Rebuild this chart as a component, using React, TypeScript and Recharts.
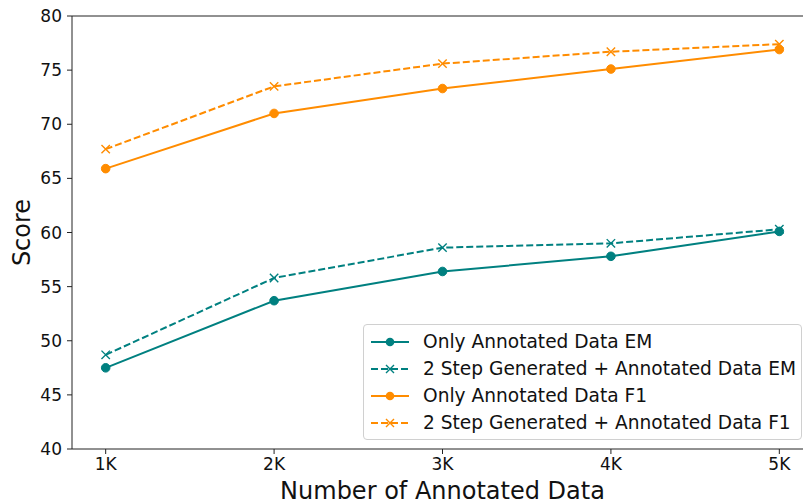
import React from 'react'
import {
  LineChart,
  Line,
  XAxis,
  YAxis,
  ReferenceLine,
} from 'recharts'

// data
const sizes = [1, 2, 3, 4, 5]
const onlyEM = [47.5, 53.7, 56.4, 57.8, 60.1]
const stepEM = [48.7, 55.8, 58.6, 59.0, 60.3]
const onlyF1 = [65.9, 71.0, 73.3, 75.1, 76.9]
const stepF1 = [67.7, 73.5, 75.6, 76.7, 77.4]
const yTicks = [40, 45, 50, 55, 60, 65, 70, 75, 80]

const TEAL = '#008080'
const ORANGE = '#ff8c00'
const FONT = '"DejaVu Sans", sans-serif'

const data = sizes.map((k, i) => ({
  k,
  onlyEM: onlyEM[i],
  stepEM: stepEM[i],
  onlyF1: onlyF1[i],
  stepF1: stepF1[i],
}))

const series = [
  { key: 'onlyEM', name: 'Only Annotated Data EM', color: TEAL, dashed: false },
  { key: 'stepEM', name: '2 Step Generated + Annotated Data EM', color: TEAL, dashed: true },
  { key: 'onlyF1', name: 'Only Annotated Data F1', color: ORANGE, dashed: false },
  { key: 'stepF1', name: '2 Step Generated + Annotated Data F1', color: ORANGE, dashed: true },
]

const circleDot = (color: string) => (p: any) => (
  <circle key={p.index} cx={p.cx} cy={p.cy} r={4.3} fill={color} stroke={color} />
)

const crossDot = (color: string) => (p: any) => {
  const s = 4.2
  return (
    <path
      key={p.index}
      d={`M${p.cx - s},${p.cy - s}L${p.cx + s},${p.cy + s}M${p.cx - s},${p.cy + s}L${p.cx + s},${p.cy - s}`}
      stroke={color}
      strokeWidth={1.4}
      fill="none"
    />
  )
}

// legend drawn outside the chart so it does not shrink the plot area
function LegendBox() {
  return (
    <div
      style={{
        position: 'absolute',
        left: 363,
        top: 324,
        width: 439,
        height: 116,
        border: '1px solid #d0d0d0',
        borderRadius: 4,
        background: 'rgba(255,255,255,0.85)',
        fontFamily: FONT,
        fontSize: 18.6,
        color: '#111',
        paddingTop: 3,
        boxSizing: 'border-box',
      }}
    >
      {series.map((s) => (
        <div key={s.key} style={{ height: 27, display: 'flex', alignItems: 'center', whiteSpace: 'nowrap' }}>
          <svg width={55} height={20} style={{ marginLeft: 4, flex: 'none' }}>
            <line
              x1={3}
              x2={41}
              y1={10}
              y2={10}
              stroke={s.color}
              strokeWidth={2}
              strokeDasharray={s.dashed ? '7 3' : undefined}
            />
            {s.dashed ? (
              <path d="M18,6L26,14M18,14L26,6" stroke={s.color} strokeWidth={1.4} />
            ) : (
              <circle cx={22} cy={10} r={4.3} fill={s.color} />
            )}
          </svg>
          <span>{s.name}</span>
        </div>
      ))}
    </div>
  )
}

export default function App() {
  return (
    <div
      style={{
        position: 'absolute',
        left: 0,
        top: 0,
        width: 803,
        height: 502,
        overflow: 'hidden',
        background: '#fff',
      }}
    >
      <LineChart width={820} height={502} data={data} margin={{ top: 16, right: 7, bottom: 0, left: 0 }}>
        <XAxis
          dataKey="k"
          type="number"
          domain={[0.8, 5.2]}
          ticks={sizes}
          tickFormatter={(v: number) => `${v}K`}
          height={53}
          stroke="#222"
          tickSize={5}
          tickMargin={4}
          tick={{ fill: '#111', fontSize: 17, fontFamily: FONT }}
          label={{
            content: ({ viewBox }: any) => (
              <text
                x={viewBox.x + viewBox.width / 2}
                y={viewBox.y + 50}
                textAnchor="middle"
                fill="#111"
                fontSize={24}
                fontFamily={FONT}
              >
                Number of Annotated Data
              </text>
            ),
          }}
        />
        <YAxis
          domain={[40, 80]}
          ticks={yTicks}
          width={72}
          stroke="#222"
          tickSize={5}
          tickMargin={5}
          tick={{ fill: '#111', fontSize: 17, fontFamily: FONT }}
          label={{
            content: ({ viewBox }: any) => (
              <text
                x={22}
                y={viewBox.y + viewBox.height / 2}
                transform={`rotate(-90, 22, ${viewBox.y + viewBox.height / 2})`}
                textAnchor="middle"
                dominantBaseline="central"
                fill="#111"
                fontSize={24}
                fontFamily={FONT}
              >
                Score
              </text>
            ),
          }}
        />
        <ReferenceLine y={80} stroke="#222" />
        {series.map((s) => (
          <Line
            key={s.key}
            dataKey={s.key}
            name={s.name}
            stroke={s.color}
            strokeWidth={2}
            strokeDasharray={s.dashed ? '7 3' : undefined}
            dot={s.dashed ? crossDot(s.color) : circleDot(s.color)}
            activeDot={false}
            isAnimationActive={false}
          />
        ))}
      </LineChart>
      <LegendBox />
    </div>
  )
}
